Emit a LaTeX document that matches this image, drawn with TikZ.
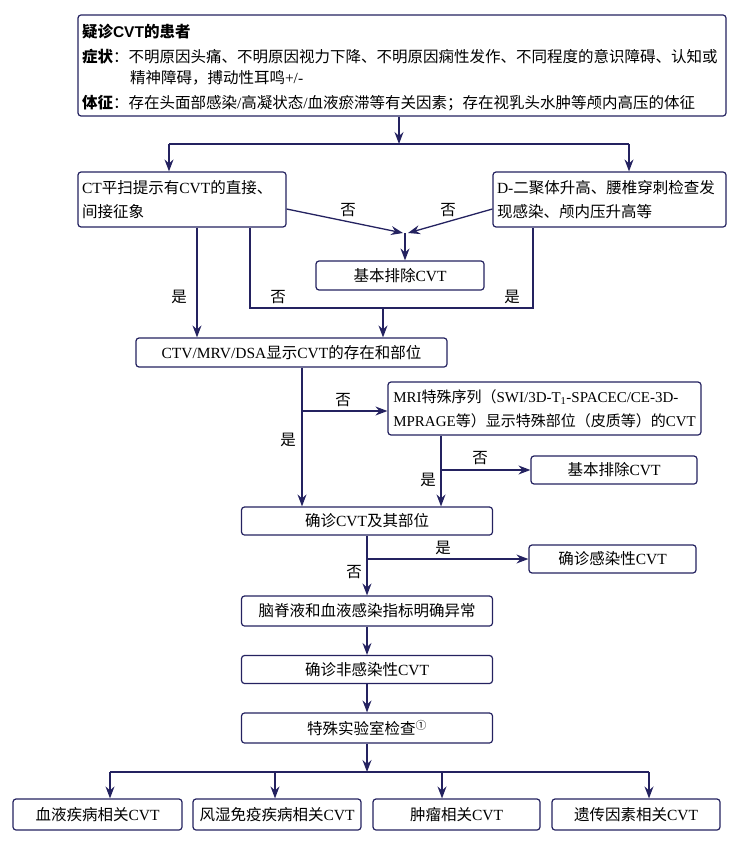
\documentclass[tikz,border=0pt]{standalone}
\usepackage{fontspec}
\setmainfont{Liberation Serif}
\setsansfont{Liberation Sans}
\newfontfamily\cjkfont{Noto Sans CJK SC}
\usetikzlibrary{arrows.meta}
\definecolor{navy}{RGB}{36,34,96}

\XeTeXinterchartokenstate=1
\newXeTeXintercharclass\cjkclass
\newcount\cjkcode
\newcommand\cjkrange[2]{\cjkcode=#1\relax\loop\XeTeXcharclass\cjkcode=\cjkclass\ifnum\cjkcode<#2\relax\advance\cjkcode by 1\repeat}
\cjkrange{"2460}{"24FF}
\cjkrange{"3000}{"303F}
\cjkrange{"4E00}{"9FFF}
\cjkrange{"FF00}{"FFEF}
\newcommand\latfont{\rmfamily}
\XeTeXinterchartoks 0 \cjkclass = {\cjkfont}
\XeTeXinterchartoks 4095 \cjkclass = {\cjkfont}
\XeTeXinterchartoks \cjkclass 0 = {\latfont}
\XeTeXinterchartoks \cjkclass 4095 = {\latfont}
\newcommand\hdr[1]{{\bfseries #1}\cjkfont}

\begin{document}
\begin{tikzpicture}[x=1pt,y=-1pt,
  box/.style={draw=navy,line width=1.2pt,rounded corners=3pt,inner sep=4pt,text=black,font=\fontsize{15.5}{24}\selectfont},
  wire/.style={draw=navy,line width=1.3pt},
  arr/.style={wire,-{Stealth[length=12pt,width=9pt,inset=4pt]}},
  lab/.style={inner sep=0pt,text=black,font=\fontsize{15.5}{18}\selectfont}]
\useasboundingbox (0,0) rectangle (736,842);

\node[box,minimum width=648pt,minimum height=101pt,text width=640pt,align=left,font=\fontsize{15.5}{21}\selectfont] (suspect) at (402,65.5)
  {\rule{0pt}{17pt}{\bfseries\let\latfont\sffamily\sffamily 疑诊CVT的患者}\\[4pt]
   \hdr{症状}：不明原因头痛、不明原因视力下降、不明原因痫性发作、不同程度的意识障碍、认知或\\
   \hspace*{48pt}精神障碍，搏动性耳鸣+/-\\[4pt]
   \hdr{体征}：存在头面部感染/高凝状态/血液瘀滞等有关因素；存在视乳头水肿等颅内高压的体征};
\node[box,minimum width=208pt,minimum height=55pt,text width=200pt,align=left] (ctscan) at (182,199.5) {CT平扫提示有CVT的直接、\\间接征象};
\node[box,minimum width=233pt,minimum height=55pt,text width=225pt,align=left] (dimer) at (609.5,199.5) {D-二聚体升高、腰椎穿刺检查发\\现感染、颅内压升高等};
\node[box,minimum width=168pt,minimum height=29pt] (excludeA) at (400,275.5) {基本排除CVT};
\node[box,minimum width=311pt,minimum height=29pt] (ctv) at (291.5,352.5) {CTV/MRV/DSA显示CVT的存在和部位};
\node[box,minimum width=313pt,minimum height=53pt,align=left,font=\fontsize{15}{24}\selectfont] (mri) at (544.5,408.5)
  {MRI特殊序列（SWI/3D-T\textsubscript{1}-SPACEC/CE-3D-\\MPRAGE等）显示特殊部位（皮质等）的CVT};
\node[box,minimum width=166pt,minimum height=28pt] (excludeB) at (614,470) {基本排除CVT};
\node[box,minimum width=251pt,minimum height=28pt] (confirm) at (367,521) {确诊CVT及其部位};
\node[box,minimum width=167pt,minimum height=28pt] (infect) at (612.5,559) {确诊感染性CVT};
\node[box,minimum width=251pt,minimum height=30pt] (csf) at (367,611) {脑脊液和血液感染指标明确异常};
\node[box,minimum width=251pt,minimum height=28pt] (noninfect) at (367,669.5) {确诊非感染性CVT};
\node[box,minimum width=251pt,minimum height=30pt] (labtest) at (367,728) {特殊实验室检查\textsuperscript{①}};
\node[box,minimum width=169pt,minimum height=31pt] (blood) at (97.5,814.5) {血液疾病相关CVT};
\node[box,minimum width=168pt,minimum height=31pt] (rheum) at (277,814.5) {风湿免疫疾病相关CVT};
\node[box,minimum width=167pt,minimum height=31pt] (tumor) at (456.5,814.5) {肿瘤相关CVT};
\node[box,minimum width=168pt,minimum height=31pt] (gene) at (636,814.5) {遗传因素相关CVT};

\coordinate (splitA) at (399,144);
\coordinate (splitAL) at (169,144);
\coordinate (splitAR) at (629,144);
\draw[arr] (suspect.south -| splitA) -- (splitA);
\draw[wire] (splitAL) -- (splitAR);
\draw[arr] (splitAL) -- (splitAL |- ctscan.north);
\draw[arr] (splitAR) -- (splitAR |- dimer.north);

\coordinate (meet) at (405,233);
\draw[arr] ([yshift=-9.5pt]ctscan.east) -- ([xshift=-2pt]meet);
\draw[arr] ([yshift=-9.5pt]dimer.west) -- ([xshift=3pt]meet);
\draw[arr] (meet) -- (meet |- excludeA.north);
\node[lab] (noCT) at (348,210) {否};
\node[lab] (noDimer) at (448,210) {否};

\coordinate (yesCT) at (197,300);
\draw[arr] (ctscan.south -| yesCT) -- (yesCT |- ctv.north);
\coordinate (joinL) at (250,308);
\coordinate (joinR) at (533,308);
\coordinate (joinC) at (383,308);
\draw[wire] (ctscan.south -| joinL) -- (joinL) -- (joinR) -- (dimer.south -| joinR);
\draw[arr] (joinC) -- (joinC |- ctv.north);
\node[lab] (yesA) at (179,297) {是};
\node[lab] (noA) at (278,297) {否};
\node[lab] (yesB) at (512,297) {是};

\coordinate (branchB) at (302,411);
\draw[arr] (ctv.south -| branchB) -- (branchB |- confirm.north);
\draw[arr] (branchB) -- (branchB -| mri.west);
\node[lab] (noC) at (343,400) {否};
\node[lab] (yesC) at (288,440) {是};

\coordinate (branchC) at (441,470);
\draw[arr] (mri.south -| branchC) -- (branchC |- confirm.north);
\draw[arr] (branchC) -- (branchC -| excludeB.west);
\node[lab] (noD) at (480,458) {否};
\node[lab] (yesD) at (428,480) {是};

\coordinate (branchD) at (367,559);
\draw[arr] (confirm) -- (csf);
\draw[arr] (branchD) -- (branchD -| infect.west);
\node[lab] (yesE) at (443,548) {是};
\node[lab] (noE) at (354,572) {否};

\draw[arr] (csf) -- (noninfect);
\draw[arr] (noninfect) -- (labtest);

\coordinate (splitB) at (367,772);
\coordinate (splitB1) at (110,772);
\coordinate (splitB2) at (275,772);
\coordinate (splitB3) at (442,772);
\coordinate (splitB4) at (649,772);
\draw[arr] (labtest) -- (splitB);
\draw[wire] (splitB1) -- (splitB4);
\draw[arr] (splitB1) -- (splitB1 |- blood.north);
\draw[arr] (splitB2) -- (splitB2 |- rheum.north);
\draw[arr] (splitB3) -- (splitB3 |- tumor.north);
\draw[arr] (splitB4) -- (splitB4 |- gene.north);
\end{tikzpicture}
\end{document}
